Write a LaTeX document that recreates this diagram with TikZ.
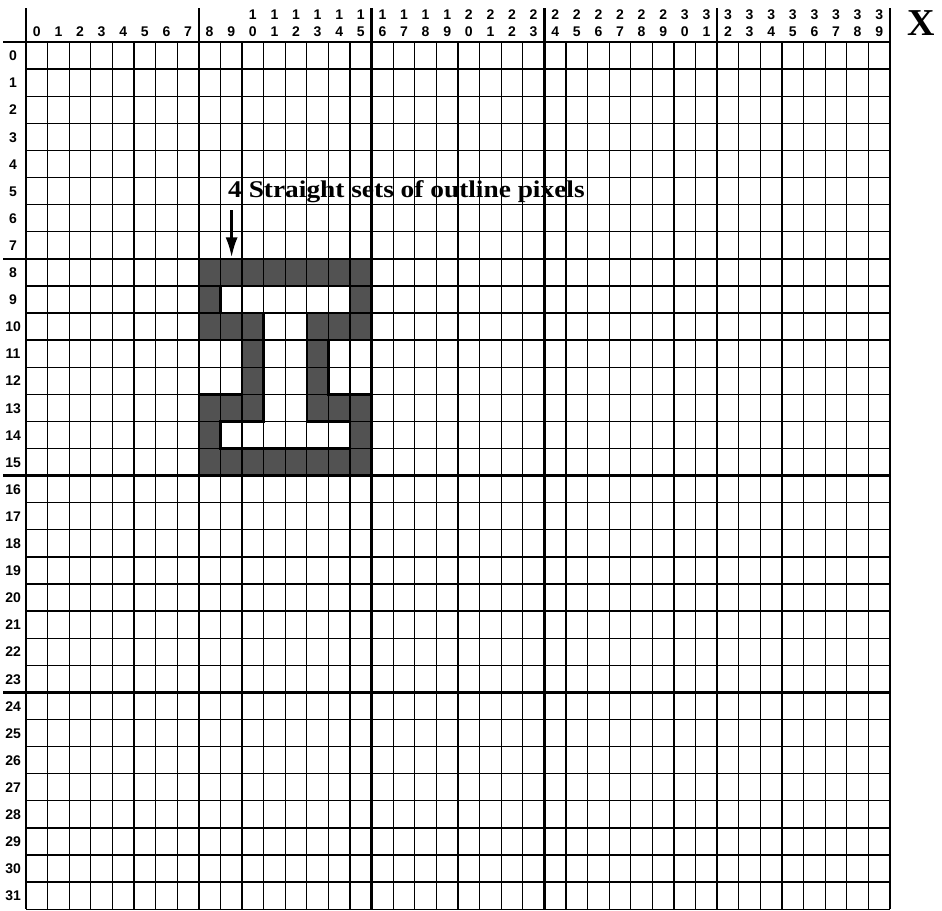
\documentclass[tikz,border=0pt]{standalone}
\usepackage{fontspec}
\setmainfont{Liberation Serif}
\setsansfont{Liberation Sans}
\usetikzlibrary{arrows.meta}
\newfontfamily\digitface{Liberation Sans Bold}
\newcommand{\digitfont}{\digitface\fontsize{14}{14}\selectfont}
\tikzset{
  gridline/.style={line width=1.3pt, black},
  majorline/.style={line width=2.4pt, black},
  outlinepix/.style={fill=black!68, even odd rule},
  outlineborder/.style={line width=2.6pt, black, line join=miter},
  digit/.style={inner sep=0pt, anchor=base, font=\digitfont},
  caption/.style={font=\bfseries\fontsize{24}{24}\selectfont, inner sep=0pt, xscale=1.14},
  axisname/.style={font=\bfseries\fontsize{38}{38}\selectfont, inner sep=0pt},
  pointer/.style={line width=2.6pt, -{Latex[length=20pt,width=12pt]}}
}
\begin{document}
\begin{tikzpicture}[x=1pt,y=1pt]
\useasboundingbox (0,0) rectangle (942,-910);
\fill[white] (0,0) rectangle (942,-910);
\begin{scope}[shift={(26pt,-42pt)}, x=21.6pt, y=-27.1pt]
  % shaded outline pixels
  \fill[outlinepix]
    (8,8) -- (16,8) -- (16,11) -- (14,11) -- (14,13) -- (16,13) -- (16,16) -- (8,16) -- (8,13) -- (10,13) -- (10,11) -- (8,11) -- cycle
    (9,9) -- (15,9) -- (15,10) -- (13,10) -- (13,14) -- (15,14) -- (15,15) -- (9,15) -- (9,14) -- (11,14) -- (11,10) -- (9,10) -- cycle;
  % fine grid
  \foreach \i in {0,...,40} \draw[gridline] (\i,0) -- (\i,32);
  \foreach \j in {0,...,32} \draw[gridline] (0,\j) -- (40,\j);
  % major lines
  \foreach \i in {0,8,16,24,32,40} \draw[majorline] (\i,-1.25) -- (\i,32);
  \foreach \j in {0,8,16,24} \draw[majorline] (-1.06,\j) -- (40,\j);
  % border of outline pixels
  \draw[outlineborder]
    (8,8) -- (16,8) -- (16,11) -- (14,11) -- (14,13) -- (16,13) -- (16,16) -- (8,16) -- (8,13) -- (10,13) -- (10,11) -- (8,11) -- cycle
    (9,9) -- (15,9) -- (15,10) -- (13,10) -- (13,14) -- (15,14) -- (15,15) -- (9,15) -- (9,14) -- (11,14) -- (11,10) -- (9,10) -- cycle;
  % column labels
  \foreach \c in {0,...,39} {
    \pgfmathtruncatemacro\tens{int(\c/10)}
    \pgfmathtruncatemacro\units{mod(\c,10)}
    \node[digit] (cu\c) at (\c+0.5,-0.19) {\units};
    \ifnum\c>9
      \node[digit] (ct\c) at (\c+0.5,-0.84) {\tens};
    \fi
  }
  % row labels
  \foreach \r in {0,...,31}
    \node[digit] (r\r) at (-0.6,\r+0.69) {\r};
  % arrow
  \coordinate (arrowtop) at (9.52,6.2);
  \coordinate (arrowtip) at (9.52,7.95);
  \draw[pointer] (arrowtop) -- (arrowtip);
\end{scope}
\node[caption, anchor=base west] (label) at (228,-197) {4 Straight sets of outline pixels};
\node[axisname, anchor=base] (xaxis) at (921,-35) {X};
\end{tikzpicture}
\end{document}
